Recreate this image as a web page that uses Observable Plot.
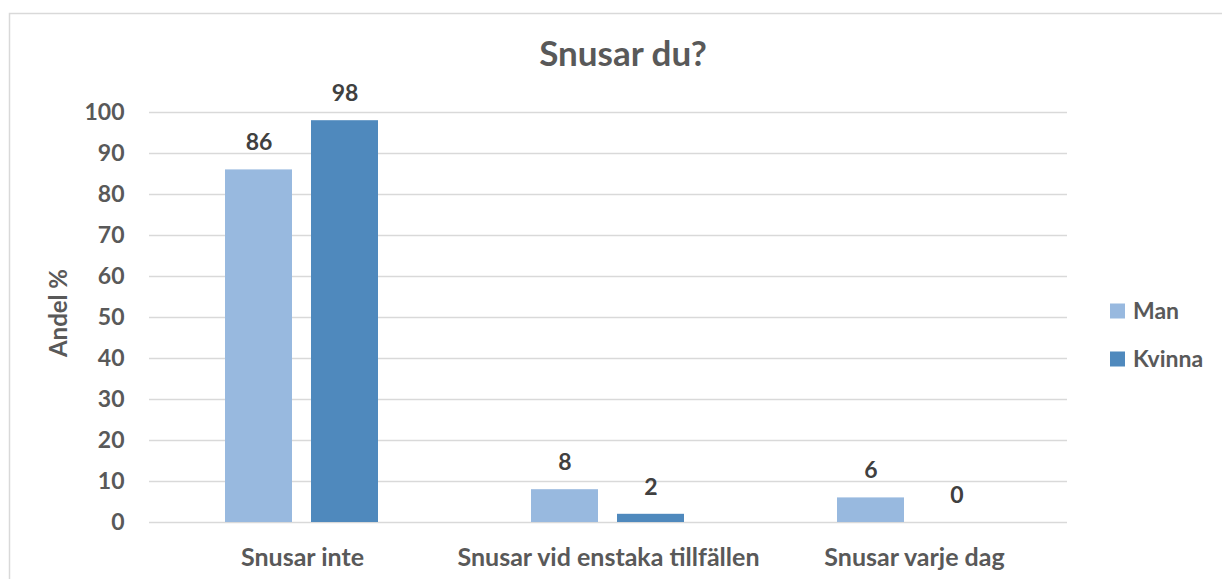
<!DOCTYPE html>
<html><head><meta charset="utf-8">
<script src="https://cdn.jsdelivr.net/npm/d3@7"></script>
<script src="https://cdn.jsdelivr.net/npm/@observablehq/plot@0.6"></script>
<style>
body{margin:0;background:#fff;}
#chart{position:relative;width:1222px;height:579px;overflow:hidden;}
</style>
</head><body><div id="chart"></div>
<script>
const categories = ["Snusar inte", "Snusar vid enstaka tillfällen", "Snusar varje dag"];
const series = ["Man", "Kvinna"];
const manValues = [86, 8, 6];
const kvinnaValues = [98, 2, 0];
const yTicks = [0, 10, 20, 30, 40, 50, 60, 70, 80, 90, 100];
const titleText = "Snusar du?";
const yLabelText = "Andel %";
const colors = ["#98b9df", "#4f89bd"];

const data = categories.flatMap((c, i) => [
  {category: c, sex: series[0], value: manValues[i]},
  {category: c, sex: series[1], value: kvinnaValues[i]}
]);

const font = "Lato, 'Open Sans', sans-serif";

const chart = Plot.plot({
  width: 1222,
  height: 579,
  marginLeft: 148,
  marginRight: 154,
  marginTop: 112,
  marginBottom: 57,
  style: {fontFamily: font, background: "transparent", color: "#595959", overflow: "visible"},
  fx: {domain: categories, paddingInner: 0, paddingOuter: 0, label: null},
  x: {domain: series, paddingInner: 0.218, paddingOuter: 0.874, axis: null},
  y: {domain: [0, 100], label: null},
  color: {domain: series, range: colors},
  marks: [
    Plot.ruleY(yTicks, {stroke: "#d9d9d9", strokeWidth: 1.6}),
    Plot.barY(data, {fx: "category", x: "sex", y: "value", fill: "sex"}),
    Plot.text(data, {
      fx: "category", x: "sex", y: "value", text: d => String(d.value),
      dy: -27, lineAnchor: "middle", fill: "#404040", fontWeight: "bold", fontSize: 23
    }),
    Plot.axisY(yTicks, {tickSize: 0, tickPadding: 25, fontSize: 23, fontWeight: "bold", label: null, fill: "#595959"}),
    Plot.axisFx({anchor: "bottom", tickSize: 0, tickPadding: 26, fontSize: 25, fontWeight: "bold", label: null, fill: "#595959"})
  ]
});

document.getElementById("chart").appendChild(chart);

const svg = d3.select(chart);
// chart border
svg.insert("rect", ":first-child")
  .attr("x", 9.5).attr("y", 13.5).attr("width", 1400).attr("height", 800)
  .attr("fill", "none").attr("stroke", "#d9d9d9").attr("stroke-width", 1.5);

// title
svg.append("text").text(titleText)
  .attr("x", 623).attr("y", 66).attr("text-anchor", "middle")
  .attr("font-family", font).attr("font-weight", "bold").attr("font-size", 35)
  .attr("fill", "#595959");

// y label
svg.append("text").text(yLabelText)
  .attr("transform", "translate(67,313) rotate(-90)").attr("text-anchor", "middle")
  .attr("font-family", font).attr("font-weight", "bold").attr("font-size", 24)
  .attr("fill", "#595959");

// legend
const legendY = [311, 359];
series.forEach((s, i) => {
  svg.append("rect").attr("x", 1110).attr("y", legendY[i] - 7.5).attr("width", 15).attr("height", 15)
    .attr("fill", colors[i]);
  svg.append("text").text(s)
    .attr("x", 1133).attr("y", legendY[i]).attr("dy", "0.36em").attr("text-anchor", "start")
    .attr("font-family", font).attr("font-weight", "bold").attr("font-size", 23)
    .attr("fill", "#595959");
});
</script>
</body></html>
